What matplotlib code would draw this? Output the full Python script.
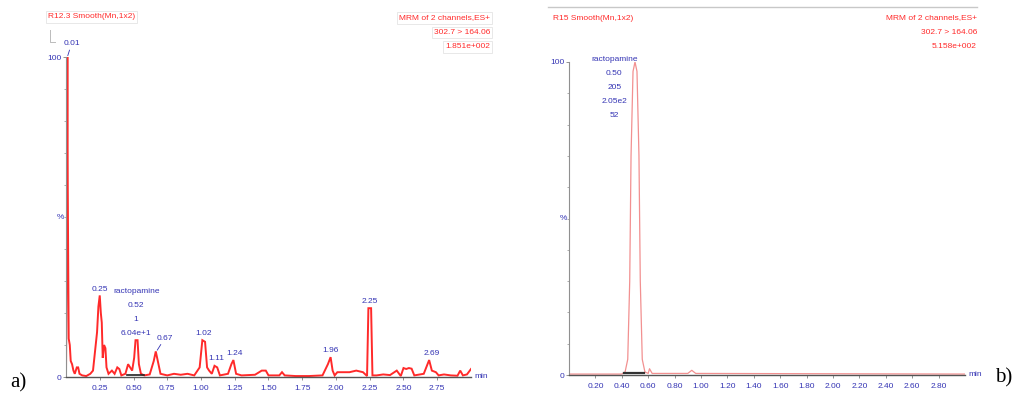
import matplotlib
matplotlib.use("Agg")
import matplotlib.pyplot as plt
from matplotlib.lines import Line2D

# panel a) trace (time in min, relative intensity %)
time_a = [0.000, 0.005, 0.010, 0.013, 0.016, 0.020, 0.028, 0.035, 0.045, 0.055,
          0.065, 0.080, 0.090, 0.100, 0.120, 0.150, 0.180, 0.200, 0.215, 0.230,
          0.240, 0.250, 0.258, 0.265, 0.272, 0.282, 0.292, 0.300, 0.315, 0.340,
          0.360, 0.380, 0.395, 0.410, 0.440, 0.460, 0.475, 0.490, 0.505, 0.515,
          0.530, 0.540, 0.555, 0.580, 0.620, 0.650, 0.665, 0.680, 0.700, 0.750,
          0.800, 0.850, 0.900, 0.950, 0.990, 1.010, 1.030, 1.045, 1.060, 1.080,
          1.100, 1.120, 1.140, 1.200, 1.225, 1.240, 1.260, 1.300, 1.400, 1.450,
          1.480, 1.500, 1.580, 1.600, 1.620, 1.700, 1.800, 1.900, 1.940, 1.960,
          1.975, 1.990, 2.010, 2.100, 2.150, 2.200, 2.230, 2.240, 2.260, 2.270,
          2.300, 2.350, 2.400, 2.450, 2.480, 2.500, 2.520, 2.540, 2.560, 2.580,
          2.650, 2.690, 2.710, 2.740, 2.760, 2.800, 2.850, 2.900, 2.920, 2.940,
          2.970, 3.000]
inten_a = [0.0, 40, 100, 60, 38, 12, 10, 5, 4, 2,
           1, 3, 3, 1, 0.5, 0.3, 1, 2, 8, 14,
           22, 25.5, 20, 17, 6, 10, 9, 3, 1, 2,
           1, 3, 2.5, 0.5, 1, 4, 3, 2, 6, 11.5,
           11.5, 4, 1, 0.5, 0.8, 5, 8, 5, 1, 0.5,
           1, 0.7, 1, 0.5, 3, 11.5, 11, 3, 2, 1,
           3.5, 3, 0.5, 1, 4, 5.3, 1, 0.5, 0.7, 2,
           2, 0.5, 0.5, 1.5, 0.5, 0.3, 0.3, 0.5, 4, 6.2,
           2, 0.5, 1.5, 1.5, 2, 1.5, 0.3, 21.5, 21.5, 0.5,
           0.5, 0.8, 0.6, 2, 0.3, 2.8, 2.5, 2.8, 2.6, 0.5,
           1, 5.3, 2, 1.5, 0.5, 0.8, 0.5, 0.4, 2, 0.5,
           0.8, 2.5]

peak_t_a = [0.01, 0.25, 0.52, 0.67, 1.02, 1.11, 1.24, 1.96, 2.25, 2.69]
peak_h_a = [100, 25.5, 11.5, 8, 11.5, 3.5, 5.3, 6.2, 21.5, 5.3]
peak_lbl_a = ["0.01", "0.25", "ractopamine\n0.52\n1\n6.04e+1", "0.67", "1.02",
              "1.11", "1.24", "1.96", "2.25", "2.69"]
xticks_a = [0.25, 0.50, 0.75, 1.00, 1.25, 1.50, 1.75, 2.00, 2.25, 2.50, 2.75]
integ_a = (0.45, 0.58)

# panel b) trace
time_b = [0.00, 0.40, 0.425, 0.445, 0.46, 0.47, 0.485, 0.50, 0.515, 0.53,
          0.54, 0.555, 0.575, 0.60, 0.61, 0.63, 0.90, 0.93, 0.96, 3.00]
inten_b = [0.3, 0.3, 1, 5, 30, 70, 97, 100, 97, 70,
           30, 5, 1, 0.5, 2, 0.5, 0.5, 1.5, 0.5, 0.3]
peak_t_b = [0.50]
peak_h_b = [100]
peak_lbl_b = ["ractopamine\n0.50\n205\n2.05e2\n52"]
xticks_b = [0.20, 0.40, 0.60, 0.80, 1.00, 1.20, 1.40, 1.60, 1.80, 2.00,
            2.20, 2.40, 2.60, 2.80]
integ_b = (0.42, 0.57)

hdr_left_a = "R12.3 Smooth(Mn,1x2)"
hdr_right_a = ["MRM of 2 channels,ES+", "302.7 > 164.06", "1.851e+002"]
hdr_left_b = "R15 Smooth(Mn,1x2)"
hdr_right_b = ["MRM of 2 channels,ES+", "302.7 > 164.06", "5.158e+002"]

W, H = 1019, 398
BLUE = "#3434b4"
RED = "#ff2a2a"
FONT = ["Liberation Sans", "DejaVu Sans"]
FS = 6


def fx(x):
    return x / W


def fy(y):
    return 1 - y / H


def setup_axes(ax, xticks):
    ax.set_xlim(0, 3.0)
    ax.set_ylim(0, 100)
    for s in ["top", "right"]:
        ax.spines[s].set_visible(False)
    ax.spines["left"].set_color("#909090")
    ax.spines["bottom"].set_color("#555555")
    ax.spines["left"].set_linewidth(0.8)
    ax.spines["bottom"].set_linewidth(1.0)
    ax.set_xticks(xticks)
    ax.set_xticklabels(["%.2f" % t for t in xticks])
    ax.set_yticks([0, 100])
    ax.set_yticklabels(["0", "100"])
    ax.set_yticks(range(10, 100, 10), minor=True)
    ax.tick_params(axis="both", colors="#808080", labelcolor=BLUE, labelsize=FS,
                   length=2, width=0.6, pad=1.5)
    ax.tick_params(axis="x", pad=4)
    ax.tick_params(axis="y", which="minor", length=1.5, colors="#a0a0a0")
    for lab in ax.get_xticklabels() + ax.get_yticklabels():
        lab.set_family(FONT)
    ax.text(-0.014, 0.5, "%", transform=ax.transAxes, color=BLUE,
            fontsize=FS, family=FONT, ha="center", va="center")
    ax.text(1.008, 0, "min", transform=ax.transAxes, color=BLUE, fontsize=FS,
            family=FONT, ha="left", va="center")
    ax.patch.set_alpha(0)


fig = plt.figure(figsize=(W / 100, H / 100), dpi=100)

# ---- panel a
ax_a = fig.add_axes([fx(66), fy(377), fx(471 - 66), (377 - 57) / H])
setup_axes(ax_a, xticks_a)
ax_a.plot(time_a, inten_a, color=RED, lw=1.4, solid_joinstyle="miter")
ax_a.plot(integ_a, [0.6, 0.6], color="#222222", lw=1.2)
offsets_a = [(3, 7), (0, 2), (0, 2), (6, 7), (0, 2), (0, 3), (1, 2), (0, 2), (0, 2), (2, 2)]
for t, h, lbl, off in zip(peak_t_a, peak_h_a, peak_lbl_a, offsets_a):
    arrow = None
    if off[0] > 2:
        arrow = dict(arrowstyle="-", color=BLUE, lw=0.6, shrinkA=0, shrinkB=1)
    ax_a.annotate(lbl, (t, h), xytext=off, textcoords="offset points",
                  ha="center", va="bottom", fontsize=FS, color=BLUE,
                  family=FONT, linespacing=2.4, arrowprops=arrow,
                  annotation_clip=False)

# ---- panel b
ax_b = fig.add_axes([fx(569), fy(375), fx(965 - 569), (375 - 62) / H])
setup_axes(ax_b, xticks_b)
ax_b.plot(time_b, inten_b, color="#f29090", lw=0.9)
ax_b.plot(integ_b, [0.5, 0.5], color="#333333", lw=1.6)
for t, h, lbl in zip(peak_t_b, peak_h_b, peak_lbl_b):
    ax_b.annotate(lbl, (t, h), xytext=(-15, 4), textcoords="offset points",
                  ha="center", va="top", fontsize=FS, color=BLUE,
                  family=FONT, linespacing=2.4, annotation_clip=False)

# ---- headers
box = dict(boxstyle="square,pad=0.25", fc="white", ec="#e4e4e4", lw=0.6)
fig.text(fx(48), fy(17), hdr_left_a, color=RED, fontsize=FS, family=FONT,
         ha="left", va="center", bbox=box)
fig.text(fx(553), fy(18), hdr_left_b, color=RED, fontsize=FS, family=FONT,
         ha="left", va="center")
for i, line in enumerate(hdr_right_a):
    fig.text(fx(490), fy(18 + 14.5 * i), line, color=RED, fontsize=FS,
             family=FONT, ha="right", va="center", bbox=box)
for i, line in enumerate(hdr_right_b):
    fig.text(fx(977), fy(18 + 14.5 * i), line, color=RED, fontsize=FS,
             family=FONT, ha="right", va="center")

fig.add_artist(Line2D([fx(50), fx(50), fx(55)], [fy(30), fy(42), fy(42)],
                      color="#bbbbbb", lw=0.7))
fig.add_artist(Line2D([fx(548), fx(977)], [fy(7), fy(7)], color="#c8c8c8", lw=1.0))

# panel letters
fig.text(fx(10), fy(383), "a)", fontsize=15, family="Liberation Serif",
         ha="left", va="center")
fig.text(fx(995), fy(378), "b)", fontsize=15, family="Liberation Serif",
         ha="left", va="center")

fig.savefig("out.png", dpi=100)
